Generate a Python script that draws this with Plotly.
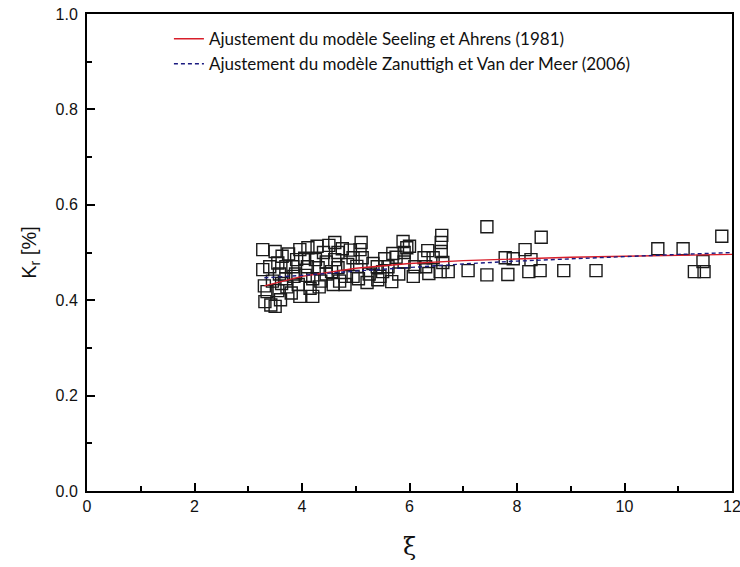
import plotly.graph_objects as go

# Measured reflection coefficients (xi, Kr)
xi_obs = [
    3.27, 3.27, 3.30, 3.35, 3.31, 3.42, 3.50, 3.50, 3.45, 3.40, 3.55, 3.60, 3.63, 3.58, 3.62, 3.55,
    3.72, 3.70, 3.75, 3.83, 3.85, 3.93, 3.96, 3.96, 3.90, 3.80, 3.88, 3.70,
    4.11, 4.28, 4.05, 4.10, 4.06, 4.20, 4.15, 4.25, 4.30, 4.35, 4.40, 4.45, 4.20, 4.32, 4.45, 4.50,
    4.58, 4.61, 4.67, 4.67, 4.80, 4.75, 4.85, 4.95, 4.95, 4.55, 4.70, 4.90, 4.61, 4.80,
    5.02, 5.10, 5.08, 5.21, 5.32, 5.12, 5.45, 5.40, 5.25, 5.50, 5.05, 5.41,
    5.54, 5.69, 5.67, 5.75, 5.88, 5.95, 5.80, 6.07, 6.00, 5.60, 5.90, 6.10, 5.90,
    6.27, 6.34, 6.36, 6.44, 6.59, 6.60, 6.59, 6.62, 6.57, 6.72, 6.30,
    7.09, 7.44, 7.44, 7.78, 7.93, 7.83, 8.15, 8.26, 8.22, 8.43, 8.45, 8.87, 9.47,
    10.62, 11.09, 11.46, 11.30, 11.48, 11.81,
]
kr_obs = [
    0.506, 0.464, 0.430, 0.418, 0.397, 0.390, 0.387, 0.502, 0.440, 0.470, 0.420, 0.401, 0.492, 0.455, 0.435, 0.478,
    0.428, 0.470, 0.497, 0.470, 0.450, 0.433, 0.408, 0.506, 0.485, 0.415, 0.455, 0.445,
    0.510, 0.513, 0.488, 0.470, 0.452, 0.408, 0.425, 0.485, 0.468, 0.440, 0.500, 0.480, 0.445, 0.428, 0.455, 0.515,
    0.433, 0.485, 0.500, 0.468, 0.450, 0.508, 0.475, 0.489, 0.450, 0.460, 0.440, 0.505, 0.521, 0.433,
    0.471, 0.521, 0.506, 0.437, 0.477, 0.489, 0.450, 0.470, 0.455, 0.460, 0.445, 0.443,
    0.487, 0.498, 0.439, 0.490, 0.523, 0.510, 0.455, 0.450, 0.513, 0.470, 0.480, 0.470, 0.500,
    0.489, 0.504, 0.456, 0.489, 0.521, 0.536, 0.502, 0.479, 0.460, 0.460, 0.470,
    0.462, 0.554, 0.453, 0.489, 0.487, 0.454, 0.506, 0.485, 0.460, 0.462, 0.532, 0.462, 0.462,
    0.508, 0.508, 0.481, 0.460, 0.460, 0.534,
]

# Fitted model curves
xi_fit = [3.3, 4.0, 5.0, 6.0, 7.0, 8.0, 9.0, 10.0, 11.0, 12.0]
kr_seeling = [0.430, 0.450, 0.467, 0.477, 0.483, 0.487, 0.490, 0.492, 0.494, 0.496]
kr_zanuttigh = [0.447, 0.452, 0.461, 0.469, 0.476, 0.482, 0.487, 0.491, 0.496, 0.500]

name_seeling = "Ajustement du modèle Seeling et Ahrens (1981)"
name_zanuttigh = "Ajustement du modèle Zanuttigh et Van der Meer (2006)"

x_ticks = [0, 2, 4, 6, 8, 10, 12]
y_ticks = [0.0, 0.2, 0.4, 0.6, 0.8, 1.0]

fig = go.Figure()

fig.add_trace(go.Scatter(
    x=xi_obs, y=kr_obs, mode="markers", showlegend=False,
    marker=dict(symbol="square-open", size=12, color="#1a1a1a", line=dict(width=1.4)),
))
fig.add_trace(go.Scatter(
    x=xi_fit, y=kr_seeling, mode="lines", name=name_seeling,
    line=dict(color="#d81e2a", width=1.4),
))
fig.add_trace(go.Scatter(
    x=xi_fit, y=kr_zanuttigh, mode="lines", name=name_zanuttigh,
    line=dict(color="#1a1a80", width=1.4, dash="4px,3px"),
))

axis_common = dict(
    showline=True, linecolor="black", linewidth=2, mirror=True,
    ticks="inside", ticklen=8, tickwidth=2, tickcolor="black",
    showgrid=False, zeroline=False, automargin=False,
    ticklabeloverflow="allow",
    tickfont=dict(family="Liberation Sans", size=16, color="#111111"),
)

fig.update_xaxes(
    range=[0, 12], tickvals=x_ticks,
    minor=dict(ticks="inside", ticklen=5, tickwidth=2, tickcolor="black", dtick=1),
    title=dict(text="ξ", font=dict(family="DejaVu Serif", size=24, color="#111111"), standoff=24),
    **axis_common,
)
fig.update_yaxes(
    range=[0, 1.0], tickvals=y_ticks, tickformat=".1f",
    minor=dict(ticks="inside", ticklen=5, tickwidth=2, tickcolor="black", dtick=0.1),
    title=dict(text="K<sub>r</sub> [%]", font=dict(family="Liberation Sans", size=20, color="#111111"), standoff=14),
    ticklabelstandoff=4,
    **axis_common,
)

fig.update_layout(
    width=740, height=567,
    margin=dict(l=87, r=8, t=14, b=76),
    paper_bgcolor="white", plot_bgcolor="white",
    legend=dict(
        x=0.127, y=0.985, xanchor="left", yanchor="top",
        bgcolor="rgba(0,0,0,0)",
        font=dict(family="Lato", size=17, color="#111111"),
        tracegroupgap=0, itemwidth=30,
    ),
)

fig.write_html("out.html")
